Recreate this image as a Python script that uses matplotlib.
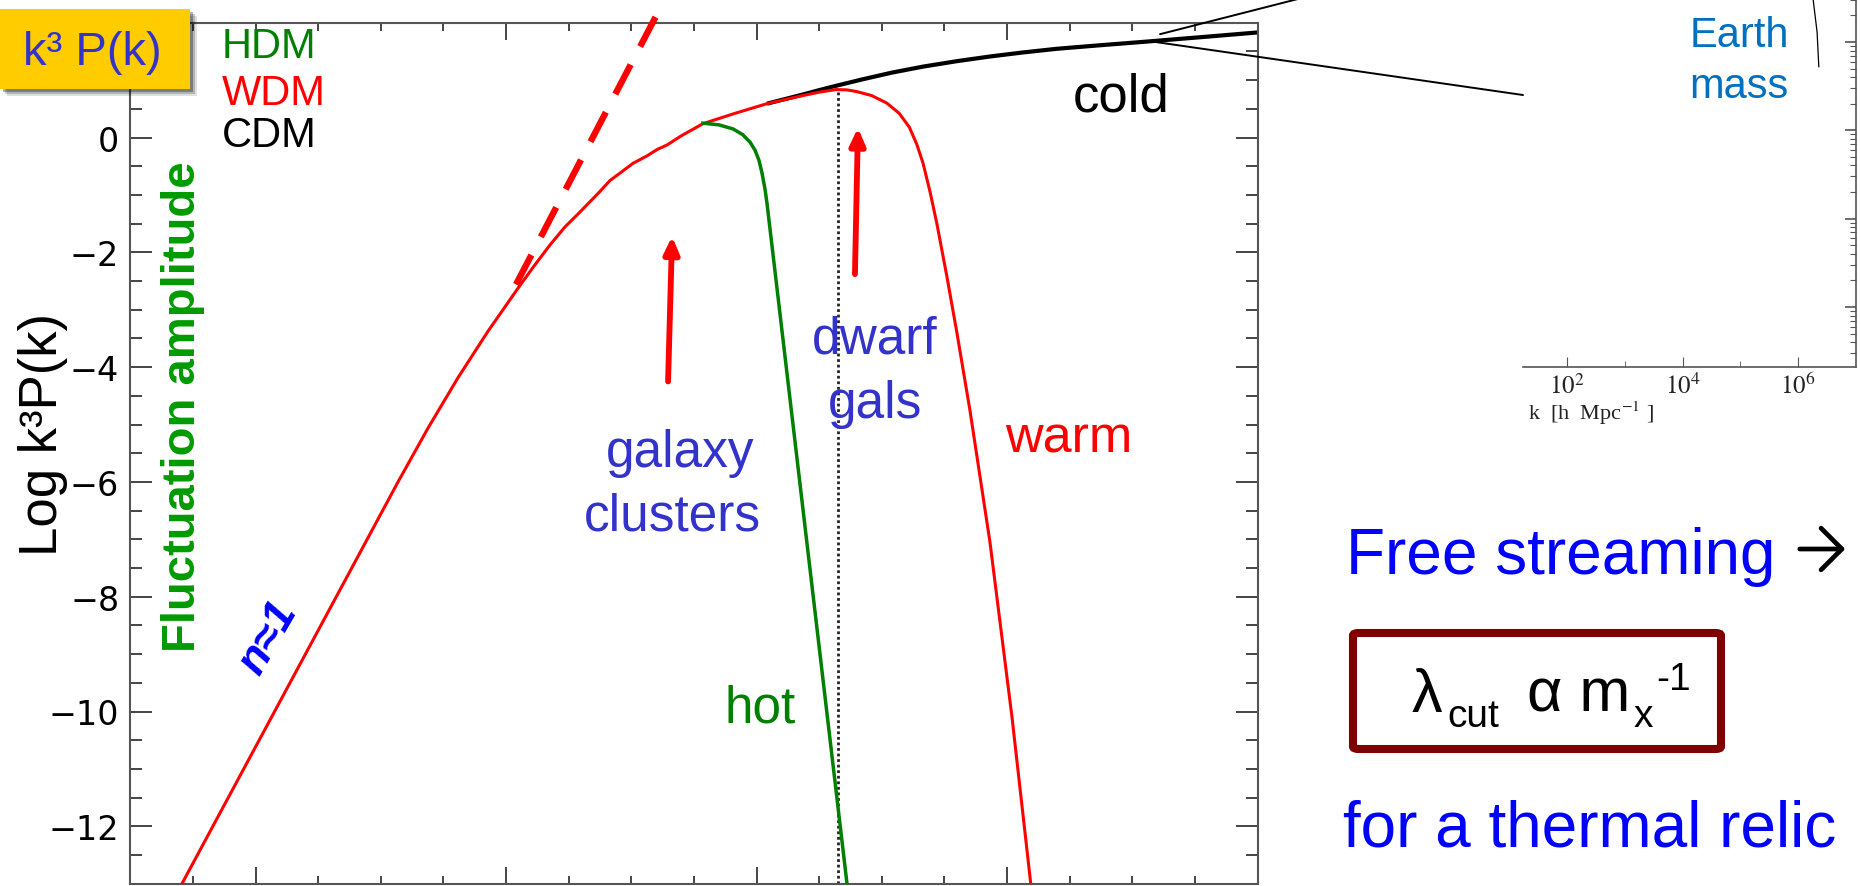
import numpy as np
import matplotlib
matplotlib.use("Agg")
import matplotlib.pyplot as plt
from matplotlib.patches import Rectangle, FancyArrowPatch, FancyBboxPatch, ConnectionPatch
from matplotlib.ticker import MultipleLocator, FixedLocator, LogLocator, NullFormatter

W, H = 1861, 887

plt.rcParams['font.family'] = ['Liberation Sans', 'DejaVu Sans']
plt.rcParams['mathtext.fontset'] = 'stix'

# log k (plot units) vs Log k^3 P(k)
cdm_logk = [1.042, 1.11, 1.186, 1.25, 1.317, 1.42, 1.54, 1.665, 1.80, 1.93,
            2.06, 2.20, 2.38, 2.555, 2.78, 3.0]
cdm_power = [0.59, 0.665, 0.75, 0.825, 0.90, 1.01, 1.13, 1.235, 1.33, 1.41,
             1.48, 1.546, 1.61, 1.67, 1.75, 1.83]

wdm_logk = [-1.312, -0.431, -0.311, -0.191, -0.071, 0.044, 0.11, 0.176,
            0.235, 0.295, 0.375, 0.415, 0.455, 0.507, 0.563, 0.603, 0.643,
            0.70, 0.786, 0.906, 1.042, 1.174, 1.25, 1.317, 1.36, 1.40, 1.46,
            1.52, 1.57, 1.61, 1.64, 1.665, 1.693, 1.72, 1.76, 1.80, 1.852,
            1.932, 2.02, 2.10]
wdm_power = [-13.15, -6.00, -5.06, -4.18, -3.37, -2.65, -2.25, -1.87,
             -1.56, -1.30, -0.94, -0.75, -0.62, -0.45, -0.32, -0.21, -0.13,
             0.03, 0.24, 0.41, 0.59, 0.72, 0.79, 0.835, 0.83, 0.80, 0.73,
             0.60, 0.42, 0.18, -0.12, -0.45, -0.95, -1.50, -2.42, -3.40,
             -4.75, -7.05, -10.1, -13.2]

hdm_logk = [0.786, 0.85, 0.906, 0.945, 0.974, 0.994, 1.010, 1.022, 1.034,
            1.042, 1.361]
hdm_power = [0.25, 0.22, 0.15, 0.05, -0.08, -0.22, -0.40, -0.62, -0.90,
             -1.15, -12.99]

# primordial n=1 slope carried on past the turnover
n1_logk = [0.04, 0.70]
n1_power = [-2.56, 2.96]

wdm_cutoff_logk = 1.325
wdm_peak_power = 0.80

# (tail, tip) of the scale arrows
cluster_arrow = [(0.647, -4.25), (0.663, -1.72)]
dwarf_arrow = [(1.393, -2.38), (1.405, 0.17)]

# small-scale inset: k [h/Mpc] vs power, near the Earth-mass cutoff
inset_k = [1.76e6, 1.82e6, 2.14e6, 2.29e6]
inset_power = [7000, 3090, 1290, 525]
inset_xticks = [1e2, 1e4, 1e6]
inset_xtick_labels = ['$10^{2}$', '$10^{4}$', '$10^{6}$']


def fx(px):
    return px / W


def fy(py):
    return 1 - py / H


fig = plt.figure(figsize=(W / 100, H / 100), dpi=100)

ax = fig.add_axes([fx(130.25), fy(884.7), 1127.25 / W, 861 / H])
ax.set_xlim(-1.5, 3.0)
ax.set_ylim(-13, 2)

ax.plot(cdm_logk, cdm_power, color='black', lw=3.0, zorder=2,
        solid_capstyle='butt', solid_joinstyle='round')
ax.plot(wdm_logk, wdm_power, color='#ff0000', lw=2.2, zorder=3,
        solid_joinstyle='round')
ax.plot(hdm_logk, hdm_power, color='#007f00', lw=2.5, zorder=4,
        solid_joinstyle='round')
ax.plot(n1_logk, n1_power, color='#ff0000', lw=4.6, ls=(0, (5.2, 3.2)),
        clip_on=False, zorder=3)
ax.plot([wdm_cutoff_logk, wdm_cutoff_logk], [wdm_peak_power, -13.5],
        color='#222222', lw=2.0, ls=(0, (1, 1)), zorder=1)

for tail, tip in (cluster_arrow, dwarf_arrow):
    ax.add_patch(FancyArrowPatch(tail, tip, arrowstyle='-|>,head_length=10,head_width=4.5',
                                 mutation_scale=1, color='#ff0000', lw=4.2,
                                 shrinkA=0, shrinkB=0, zorder=5))

ax.xaxis.set_major_locator(MultipleLocator(1))
ax.xaxis.set_minor_locator(MultipleLocator(0.25))
ax.yaxis.set_major_locator(FixedLocator(np.arange(-12, 1, 2)))
ax.yaxis.set_minor_locator(MultipleLocator(0.5))
ax.tick_params(axis='both', which='both', direction='in', top=True, right=True,
               color='#444444', width=1.4)
ax.tick_params(axis='x', which='major', length=12.5, labelbottom=False)
ax.tick_params(axis='x', which='minor', length=6)
ax.tick_params(axis='y', which='major', length=16, labelsize=24, pad=8,
               labelfontfamily='DejaVu Sans')
ax.tick_params(axis='y', which='minor', length=8.6)
for s in ax.spines.values():
    s.set_color('#555555')
    s.set_linewidth(1.5)

# axis titles
fig.text(fx(43), fy(434), 'Log k³P(k)', rotation=90, fontsize=38,
         ha='center', va='center')
fig.text(fx(183), fy(407), 'Fluctuation amplitude', rotation=90, fontsize=34,
         weight='bold', color='#009a00', ha='center', va='center')
fig.text(fx(268), fy(638), 'n≈1', rotation=60, fontsize=32, weight='bold',
         style='italic', color='#0000ff', ha='center', va='center',
         rotation_mode='anchor')

# model key
fig.text(fx(222), fy(58), 'HDM', fontsize=30, color='#008000')
fig.text(fx(222), fy(105), 'WDM', fontsize=30, color='#ff0000')
fig.text(fx(222), fy(147), 'CDM', fontsize=30, color='black')

# curve labels
fig.text(fx(1073), fy(112), 'cold', fontsize=38, color='black')
fig.text(fx(1005), fy(453), 'warm', fontsize=37.5, color='#ff0000')
fig.text(fx(725), fy(723), 'hot', fontsize=37, color='#008000')
fig.text(fx(875), fy(354), 'dwarf', fontsize=37, color='#3333cc', ha='center')
fig.text(fx(875), fy(418), 'gals', fontsize=37, color='#3333cc', ha='center')
fig.text(fx(680), fy(467), 'galaxy', fontsize=37, color='#3333cc', ha='center')
fig.text(fx(672), fy(531), 'clusters', fontsize=37, color='#3333cc', ha='center')

# yellow tag in the corner, with a soft shadow
for off, a in ((7, 0.12), (5, 0.2), (3, 0.3)):
    fig.add_artist(Rectangle((fx(off), fy(90 + off)), 190 / W, 80 / H,
                             transform=fig.transFigure, facecolor='black',
                             edgecolor='none', alpha=a, zorder=5))
fig.add_artist(Rectangle((0, fy(90)), 190 / W, 80 / H, transform=fig.transFigure,
                         facecolor='#ffcc00', edgecolor='none', zorder=6))
fig.text(fx(92), fy(65), 'k³ P(k)', fontsize=34, color='#3333cc', ha='center',
         zorder=7)

# right-hand notes
fig.text(fx(1346), fy(574), 'Free streaming', fontsize=46, color='#0000ff')
fig.add_artist(FancyArrowPatch((fx(1797), fy(550)), (fx(1848), fy(550)),
                               transform=fig.transFigure,
                               arrowstyle='->,head_length=15,head_width=15',
                               mutation_scale=1, color='black', lw=3.4))
fig.add_artist(FancyBboxPatch((fx(1353), fy(750)), 368 / W, 116 / H,
                              boxstyle='round,pad=0,rounding_size=0.003',
                              transform=fig.transFigure, facecolor='white',
                              edgecolor='#7f0000', lw=5.8))
fig.text(fx(1412), fy(712), 'λ', fontsize=44, color='black')
fig.text(fx(1447), fy(727), 'cut', fontsize=28, color='black')
fig.text(fx(1527), fy(712), 'α m', fontsize=44, color='black')
fig.text(fx(1634), fy(727), 'x', fontsize=28, color='black')
fig.text(fx(1656), fy(690), '-1', fontsize=28, color='black')
fig.text(fx(1343), fy(847), 'for a thermal relic', fontsize=46, color='#0000ff')

# inset: small-scale end of the CDM spectrum
axin = fig.add_axes([fx(1523), fy(368), 333 / W, 388 / H])
axin.set_xscale('log')
axin.set_yscale('log')
axin.set_xlim(10 ** 1.238, 10 ** 7.004)
axin.set_ylim(10 ** -0.68, 10 ** 3.713)
axin.plot(inset_k, inset_power, color='black', lw=0.9)
axin.spines['top'].set_visible(False)
axin.spines['left'].set_visible(False)
for s in ('bottom', 'right'):
    axin.spines[s].set_color('#555555')
    axin.spines[s].set_linewidth(1.2)
axin.xaxis.set_major_locator(FixedLocator(inset_xticks))
axin.set_xticklabels(inset_xtick_labels)
axin.xaxis.set_minor_locator(FixedLocator([1e3, 1e5]))
axin.xaxis.set_minor_formatter(NullFormatter())
axin.yaxis.set_major_locator(LogLocator(base=10, numticks=10))
axin.yaxis.set_minor_locator(LogLocator(base=10, subs=np.arange(2, 10), numticks=20))
axin.yaxis.set_minor_formatter(NullFormatter())
axin.tick_params(axis='x', which='both', direction='in', color='#555555',
                 labelsize=18, pad=4, labelcolor='#222222')
axin.tick_params(axis='x', which='major', length=7)
axin.tick_params(axis='x', which='minor', length=4)
axin.tick_params(axis='y', which='both', direction='in', left=False, right=True,
                 labelleft=False, labelright=False, color='#555555')
axin.tick_params(axis='y', which='major', length=8, width=1.2)
axin.tick_params(axis='y', which='minor', length=4.5, width=0.8)
fig.text(fx(1528), fy(420), 'k  [h  Mpc$^{-1}$ ]', fontsize=16,
         family='Liberation Serif', color='#222222')
fig.text(fx(1739), fy(47), 'Earth', fontsize=30, color='#0070c0', ha='center')
fig.text(fx(1739), fy(98), 'mass', fontsize=30, color='#0070c0', ha='center')

# zoom lines from the CDM curve to the inset
fig.add_artist(ConnectionPatch(xyA=(2.567, 1.68), coordsA=ax.transData,
                               xyB=(0, 0.701), coordsB=axin.transAxes,
                               color='black', lw=1.4))
fig.add_artist(ConnectionPatch(xyA=(2.611, 1.80), coordsA=ax.transData,
                               xyB=(fx(1339), fy(-10.5)), coordsB=fig.transFigure,
                               color='black', lw=1.4))

fig.savefig('out.png', dpi=100)
